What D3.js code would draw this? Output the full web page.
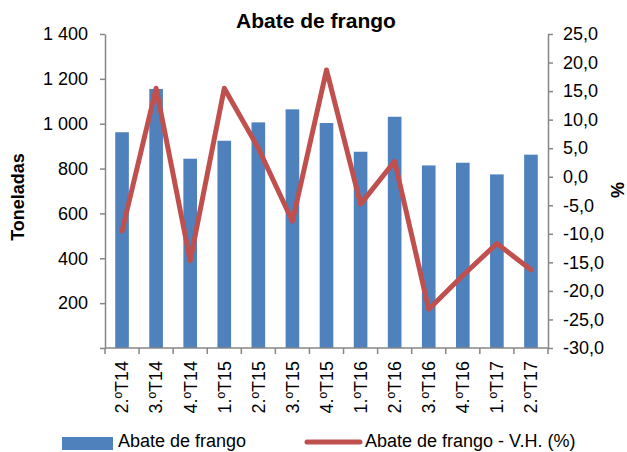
<!DOCTYPE html>
<html>
<head>
<meta charset="utf-8">
<script src="https://cdn.jsdelivr.net/npm/d3@7"></script>
<style>
  body { margin: 0; background: #fff; }
  text { font-family: "Liberation Sans", Arial, sans-serif; fill: #000; }
</style>
</head>
<body>
<div id="chart"></div>
<script>
// quarters on the x axis
const quarters = ['2.ºT14', '3.ºT14', '4.ºT14', '1.ºT15', '2.ºT15', '3.ºT15', '4.ºT15',
  '1.ºT16', '2.ºT16', '3.ºT16', '4.ºT16', '1.ºT17', '2.ºT17'];
// tonnes (bars, left axis)
const abate = [962, 1155, 844, 924, 1006, 1064, 1003, 875, 1031, 814, 826, 774, 862];
// homologous variation % (line, right axis)
const variacao = [-9.5, 15.5, -14.7, 15.5, 5.0, -7.8, 18.7, -4.8, 2.7, -23.2, -17.3, -11.7, -16.3];
const leftTicks = [0, 200, 400, 600, 800, 1000, 1200, 1400];
const rightTicks = [-30, -25, -20, -15, -10, -5, 0, 5, 10, 15, 20, 25];

const W = 627, H = 452;
const margin = { top: 34, right: 79, bottom: 104, left: 105 };
const axisColor = '#868686';
const barColor = '#4F81BD';
const lineColor = '#C0504D';

const svg = d3.select('#chart').append('svg')
  .attr('width', W)
  .attr('height', H);

const x = d3.scaleBand()
  .domain(quarters)
  .range([margin.left, W - margin.right]);

const yL = d3.scaleLinear().domain([0, 1400]).range([H - margin.bottom, margin.top]);
const yR = d3.scaleLinear().domain([-30, 25]).range([H - margin.bottom, margin.top]);

const barW = x.bandwidth() * 0.4;

// bars
svg.append('g').selectAll('rect')
  .data(abate)
  .enter()
  .append('rect')
  .attr('x', (d, i) => x(quarters[i]) + (x.bandwidth() - barW) / 2)
  .attr('y', d => yL(d))
  .attr('width', barW)
  .attr('height', d => yL(0) - yL(d))
  .attr('fill', barColor);

// line
const line = d3.line()
  .x((d, i) => x(quarters[i]) + x.bandwidth() / 2)
  .y(d => yR(d));

svg.append('path')
  .datum(variacao)
  .attr('d', line)
  .attr('fill', 'none')
  .attr('stroke', lineColor)
  .attr('stroke-width', 5)
  .attr('stroke-linejoin', 'round')
  .attr('stroke-linecap', 'round');

const fmtL = d => d === 0 ? '' : d3.format(',')(d).replace(',', ' ');
const fmtR = d => d.toFixed(1).replace('.', ',');

function styleAxis(g) {
  g.select('.domain').attr('stroke', axisColor).attr('stroke-width', 1.5);
  g.selectAll('.tick line').attr('stroke', axisColor).attr('stroke-width', 1.5);
  g.selectAll('.tick text').style('font-size', '18px').attr('fill', '#000');
}

// left axis
svg.append('g')
  .attr('transform', `translate(${margin.left},0)`)
  .call(d3.axisLeft(yL).tickValues(leftTicks).tickFormat(fmtL).tickSize(5).tickSizeOuter(0).tickPadding(12))
  .call(styleAxis);

// right axis
svg.append('g')
  .attr('transform', `translate(${W - margin.right},0)`)
  .call(d3.axisRight(yR).tickValues(rightTicks).tickFormat(fmtR).tickSize(5).tickSizeOuter(0).tickPadding(10))
  .call(styleAxis);

// bottom axis: ticks at band boundaries
const xAxis = svg.append('g')
  .attr('transform', `translate(0,${H - margin.bottom})`);
xAxis.append('line')
  .attr('x1', margin.left).attr('x2', W - margin.right)
  .attr('stroke', axisColor).attr('stroke-width', 1.5);
const bounds = quarters.map(q => x(q)).concat([x.range()[1]]);
xAxis.selectAll('.b')
  .data(bounds)
  .enter()
  .append('line')
  .attr('x1', d => d).attr('x2', d => d)
  .attr('y1', 0).attr('y2', 6)
  .attr('stroke', axisColor).attr('stroke-width', 1.5);
xAxis.selectAll('text')
  .data(quarters)
  .enter()
  .append('text')
  .attr('transform', d => `translate(${x(d) + x.bandwidth() / 2},13) rotate(-90)`)
  .attr('text-anchor', 'end')
  .attr('dy', '0.35em')
  .style('font-size', '18px')
  .text(d => d);

// title and axis titles
svg.append('text')
  .attr('x', 316).attr('y', 28)
  .attr('text-anchor', 'middle')
  .style('font-size', '21px').style('font-weight', 'bold')
  .text('Abate de frango');

svg.append('text')
  .attr('transform', 'translate(24,197) rotate(-90)')
  .attr('text-anchor', 'middle')
  .style('font-size', '18px').style('font-weight', 'bold')
  .text('Toneladas');

svg.append('text')
  .attr('transform', 'translate(624,190) rotate(-90)')
  .attr('text-anchor', 'middle')
  .style('font-size', '18px').style('font-weight', 'bold')
  .text('%');

// legend
const leg = svg.append('g');
leg.append('rect')
  .attr('x', 62).attr('y', 437).attr('width', 51).attr('height', 13)
  .attr('fill', barColor);
leg.append('text')
  .attr('x', 118).attr('y', 447)
  .style('font-size', '18px')
  .text('Abate de frango');
leg.append('line')
  .attr('x1', 307).attr('x2', 360).attr('y1', 442).attr('y2', 442)
  .attr('stroke', lineColor).attr('stroke-width', 5).attr('stroke-linecap', 'round');
leg.append('text')
  .attr('x', 365).attr('y', 447)
  .style('font-size', '18px')
  .text('Abate de frango - V.H. (%)');
</script>
</body>
</html>
